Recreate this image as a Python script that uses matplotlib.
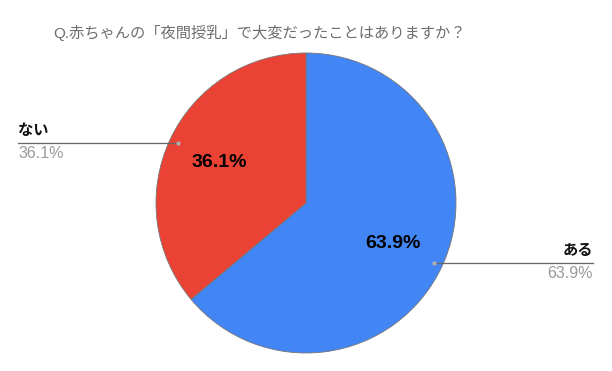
import numpy as np
import matplotlib
matplotlib.use("Agg")
import matplotlib.pyplot as plt

plt.rcParams['font.family'] = ['Liberation Sans', 'Noto Sans CJK JP', 'DejaVu Sans']

# data
title = "Q.赤ちゃんの「夜間授乳」で大変だったことはありますか？"
labels = ["ある", "ない"]
values = [63.9, 36.1]
colors = ["#4285f4", "#ea4335"]

W, H = 612, 371
fig = plt.figure(figsize=(W / 100, H / 100), dpi=100)
ax = fig.add_axes([0, 0, 1, 1])

cx, cy, r = 306, H - 203, 150

wedges, _ = ax.pie(values, colors=colors, startangle=90, counterclock=False,
                   center=(cx, cy), radius=r, frame=True,
                   wedgeprops=dict(edgecolor="#777777", linewidth=0.6))
ax.set_xlim(0, W)
ax.set_ylim(0, H)
ax.set_aspect("equal")
ax.axis("off")

for w, lab, v in zip(wedges, labels, values):
    mid = np.deg2rad((w.theta1 + w.theta2) / 2)
    # inner percentage
    ax.text(cx + 0.64 * r * np.cos(mid), cy + 0.64 * r * np.sin(mid), f"{v:.1f}%",
            ha="center", va="center", fontsize=14, fontweight="bold", color="black")
    # leader dot + line
    px, py = cx + 0.94 * r * np.cos(mid), cy + 0.94 * r * np.sin(mid)
    ax.plot(px, py, "o", ms=3, color="#b0b0b0", mec="none", zorder=5)
    if np.cos(mid) < 0:
        xe, ha = 18, "left"
    else:
        xe, ha = 593, "right"
    ax.plot([px, xe], [py, py], color="#666666", lw=0.9, zorder=4)
    ax.text(xe, py + 5, lab, ha=ha, va="bottom", fontsize=11, fontweight="bold", color="#111111")
    ax.text(xe, py - 3, f"{v:.1f}%", ha=ha, va="top", fontsize=11.5, color="#999999")

ax.text(W / 2 - 46, H - 33, title, ha="center", va="center", fontsize=11, color="#6e6e6e")

fig.savefig("out.png", dpi=100)
